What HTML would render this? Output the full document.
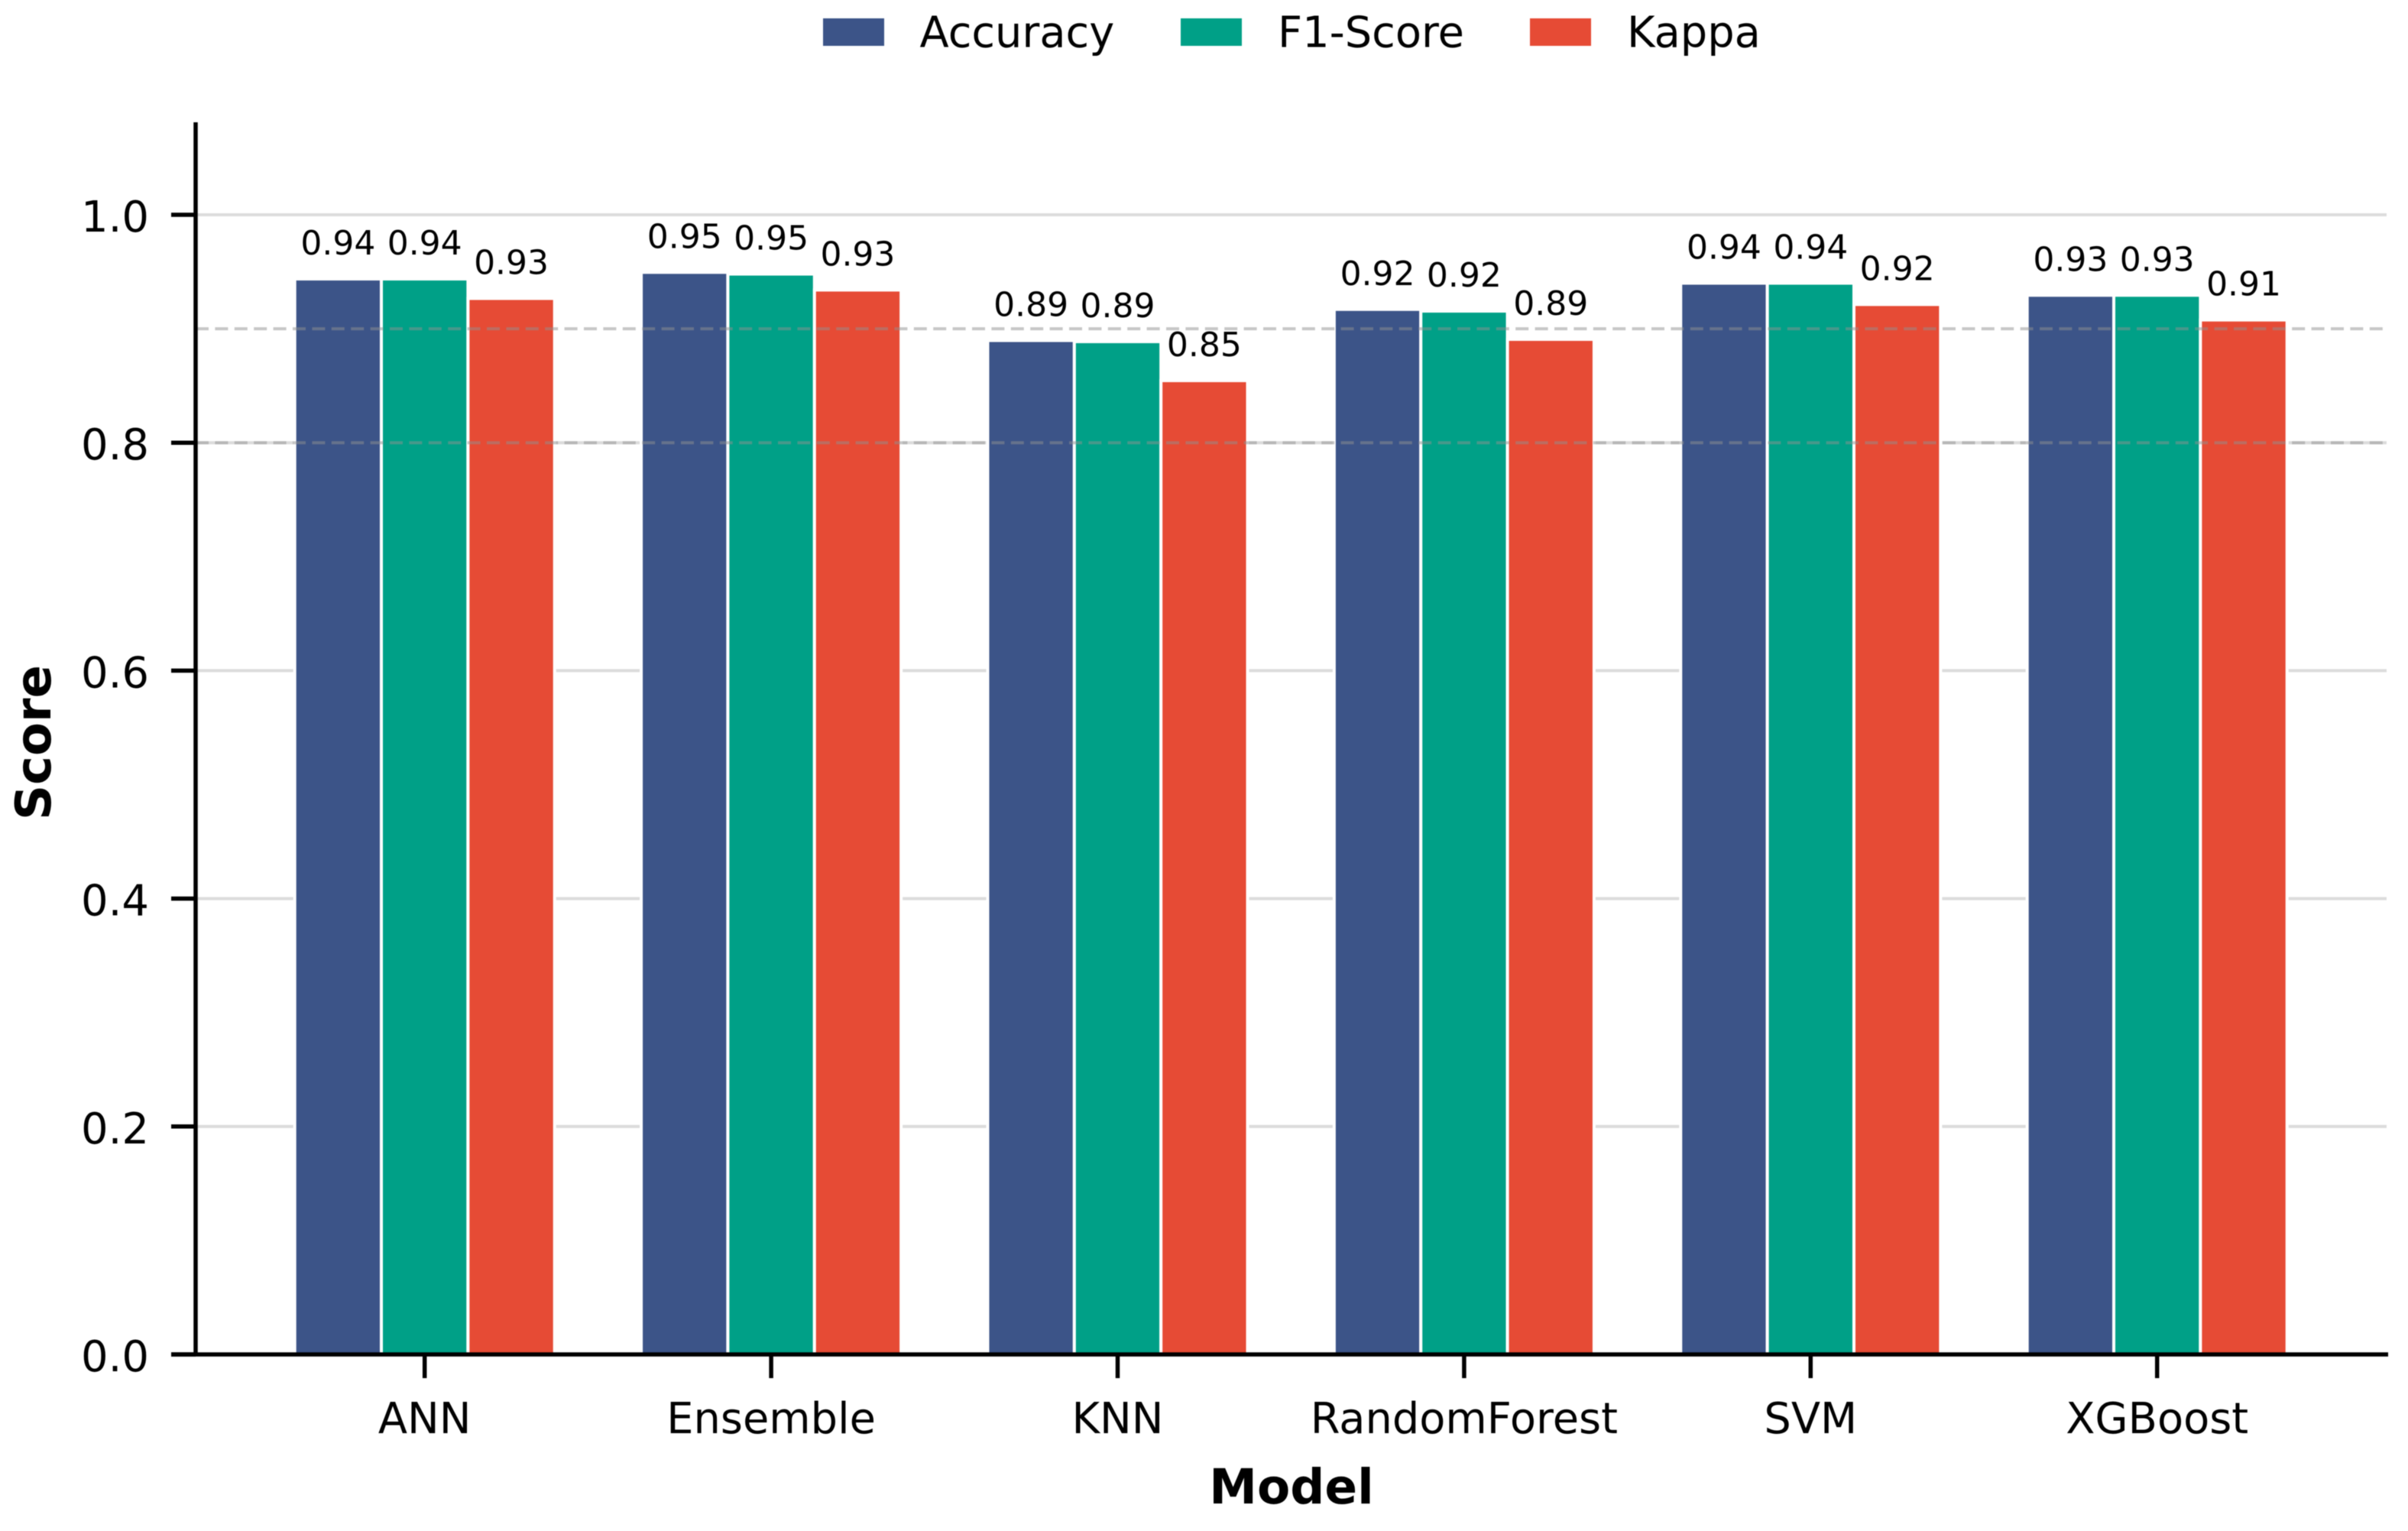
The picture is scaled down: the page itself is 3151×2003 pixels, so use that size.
<!DOCTYPE html>
<html lang="en">
<head>
<meta charset="utf-8">
<title>Model score comparison</title>
<style>
  html, body { margin: 0; padding: 0; background: #ffffff; }
  #chart { display: block; width: 3151px; height: 2003px; font-family: "DejaVu Sans", "Liberation Sans", sans-serif; fill: #000; filter: blur(0.6px); }
</style>
</head>
<body>
<svg id="chart" xmlns="http://www.w3.org/2000/svg" width="3151" height="2003" viewBox="0 0 3151 2003">
  <rect x="0" y="0" width="3151" height="2003" fill="#ffffff"></rect>
  <g id="grid"></g>
  <g id="bars"></g>
  <g id="refs"></g>
  <g id="axes"></g>
  <g id="labels"></g>
  <g id="legend"></g>
  <text x="1690" y="1967" text-anchor="middle" font-size="63" font-weight="bold">Model</text>
  <text transform="translate(66 971.5) rotate(-90)" text-anchor="middle" font-size="64" font-weight="bold">Score</text>
</svg>
<script>
const categories = ['ANN', 'Ensemble', 'KNN', 'RandomForest', 'SVM', 'XGBoost'];
const seriesNames = ['Accuracy', 'F1-Score', 'Kappa'];
const accuracyValues = [0.9437, 0.9495, 0.8897, 0.917, 0.940, 0.9294];
const f1Values = [0.9437, 0.948, 0.8887, 0.9155, 0.940, 0.9294];
const kappaValues = [0.9266, 0.934, 0.8545, 0.8907, 0.9213, 0.9077];
const yTicks = [0, 0.2, 0.4, 0.6, 0.8, 1.0];
const yTickLabels = ['0.0', '0.2', '0.4', '0.6', '0.8', '1.0'];
const referenceLevels = [0.9, 0.8];

const seriesValues = [accuracyValues, f1Values, kappaValues];
const seriesColors = ['#3C5488', '#00A087', '#E64B35'];
const seriesKeys = ['accuracy', 'f1-score', 'kappa'];

const NS = 'http://www.w3.org/2000/svg';
const plot = { left: 256, right: 3123, top: 160, zeroY: 1772, unitY: 1491, firstX: 555.7, stepX: 453.4, barW: 113.35 };

function xScale(i) { return plot.firstX + i * plot.stepX; }
function yScale(v) { return plot.zeroY - v * plot.unitY; }
function make(tag, attrs, parent, text) {
  const el = document.createElementNS(NS, tag);
  for (const k in attrs) el.setAttribute(k, attrs[k]);
  if (text !== undefined) el.textContent = text;
  parent.appendChild(el);
  return el;
}

const gridG = document.getElementById('grid');
const barsG = document.getElementById('bars');
const refsG = document.getElementById('refs');
const axesG = document.getElementById('axes');
const labelsG = document.getElementById('labels');
const legendG = document.getElementById('legend');

// Horizontal gridlines
yTicks.forEach(function (t) {
  const line = make('line', { x1: plot.left, x2: plot.right, y1: yScale(t), y2: yScale(t), stroke: '#dcdcdc', 'stroke-width': 4 }, gridG);
  
  
});

// Bars and value labels
categories.forEach(function (cat, i) {
  seriesValues.forEach(function (values, s) {
    const v = values[i];
    const cx = xScale(i) + (s - 1) * plot.barW;
    const bar = make('rect', {
      x: cx - plot.barW / 2,
      y: yScale(v),
      width: plot.barW,
      height: yScale(0) - yScale(v),
      fill: seriesColors[s],
      stroke: '#ffffff',
      'stroke-width': 4
    }, barsG);
    
    

    const label = make('text', { x: cx, y: yScale(v) - 32, 'text-anchor': 'middle', 'font-size': 44 }, labelsG, v.toFixed(2));
    
    
  });
});

// Dashed reference lines drawn over the bars
referenceLevels.forEach(function (r) {
  const line = make('line', { x1: plot.left, x2: plot.right, y1: yScale(r), y2: yScale(r), stroke: '#909090', 'stroke-opacity': 0.5, 'stroke-width': 4, 'stroke-dasharray': '17 8.4' }, refsG);
  
  
});

// Y axis
yTicks.forEach(function (t, i) {
  const tick = make('line', { x1: 224, x2: plot.left, y1: yScale(t), y2: yScale(t), stroke: '#000', 'stroke-width': 5.5 }, axesG);
  
  
  const lab = make('text', { x: 195, y: yScale(t) + 22, 'text-anchor': 'end', 'font-size': 56 }, axesG, yTickLabels[i]);
  
  
});

// X axis
categories.forEach(function (cat, i) {
  const tick = make('line', { x1: xScale(i), x2: xScale(i), y1: plot.zeroY, y2: 1803, stroke: '#000', 'stroke-width': 5.5 }, axesG);
  
  
  const lab = make('text', { x: xScale(i), y: 1875, 'text-anchor': 'middle', 'font-size': 55.8 }, axesG, cat);
  
  
});

const ySpine = make('line', { x1: plot.left, x2: plot.left, y1: plot.top, y2: plot.zeroY + 2.5, stroke: '#000', 'stroke-width': 5.5 }, axesG);


const xSpine = make('line', { x1: 224, x2: plot.right + 2, y1: plot.zeroY, y2: plot.zeroY, stroke: '#000', 'stroke-width': 5.5 }, axesG);



// Legend
const legendSwatchX = [1077, 1545, 2002];
const legendTextX = [1203.5, 1672, 2129];
seriesNames.forEach(function (name, s) {
  const swatch = make('rect', { x: legendSwatchX[s], y: 24, width: 80, height: 36, fill: seriesColors[s] }, legendG);
  
  
  const text = make('text', { x: legendTextX[s], y: 61.5, 'font-size': 55.8 }, legendG, name);
  
  
});
</script>
</body>
</html>
